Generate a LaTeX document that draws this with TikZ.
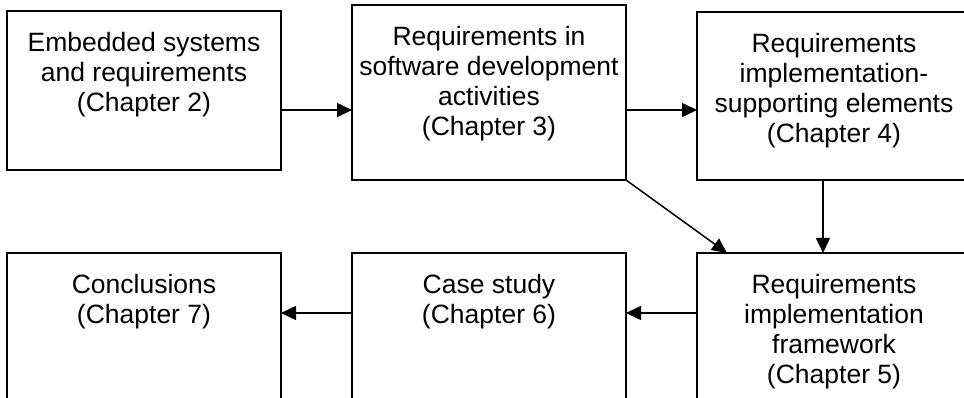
\documentclass[tikz,border=0pt]{standalone}
\usepackage{fontspec}
\setmainfont{Liberation Sans}
\usetikzlibrary{arrows.meta}
\begin{document}
\begin{tikzpicture}[x=1pt,y=1pt,
  chapbox/.style={draw=black, line width=1.6pt, outer sep=0pt, inner sep=0pt,
    anchor=north west, minimum width=274pt},
  chaptext/.style={anchor=north, align=center, inner sep=0pt,
    font=\fontsize{26.5}{30}\selectfont, execute at begin node={\strut}},
  arr/.style={line width=1.5pt, -{Triangle[length=15pt,width=14pt]}}]
\path[use as bounding box, clip] (0,0) rectangle (964,-398);

% top row
\node[chapbox, minimum height=159pt] (b1) at (7,-11) {};
\node[chapbox, minimum height=175pt] (b2) at (352,-5) {};
\node[chapbox, minimum height=168pt] (b3) at (697,-12) {};
% bottom row (runs past the lower and right edges)
\node[chapbox, minimum height=180pt] (b5) at (697,-253) {};
\node[chapbox, minimum height=180pt] (b6) at (352,-253) {};
\node[chapbox, minimum height=180pt] (b7) at (7,-253) {};

% labels: first baseline about 42pt below each box top
\node[chaptext] (t1) at ([yshift=-21pt]b1.north) {Embedded systems\\and requirements\\(Chapter 2)};
\node[chaptext] (t2) at ([yshift=-21pt]b2.north) {Requirements in\\software development\\activities\\(Chapter 3)};
\node[chaptext] (t3) at ([yshift=-21pt]b3.north) {Requirements\\implementation-\\supporting elements\\(Chapter 4)};
\node[chaptext] (t5) at ([yshift=-21pt]b5.north) {Requirements\\implementation\\framework\\(Chapter 5)};
\node[chaptext] (t6) at ([yshift=-21pt]b6.north) {Case study\\(Chapter 6)};
\node[chaptext] (t7) at ([yshift=-21pt]b7.north) {Conclusions\\(Chapter 7)};

% connectors
\draw[arr] ([yshift=-99pt]b1.north east) -- ([yshift=-105pt]b2.north west);
\draw[arr] ([yshift=-105pt]b2.north east) -- ([yshift=-98pt]b3.north west);
\draw[arr] ([xshift=126pt]b3.south west) -- ([xshift=126pt]b5.north west);
\draw[arr] (b2.south east) -- ([xshift=30pt]b5.north west);
\draw[arr] ([yshift=-60pt]b5.north west) -- ([yshift=-60pt]b6.north east);
\draw[arr] ([yshift=-60pt]b6.north west) -- ([yshift=-60pt]b7.north east);
\end{tikzpicture}
\end{document}
